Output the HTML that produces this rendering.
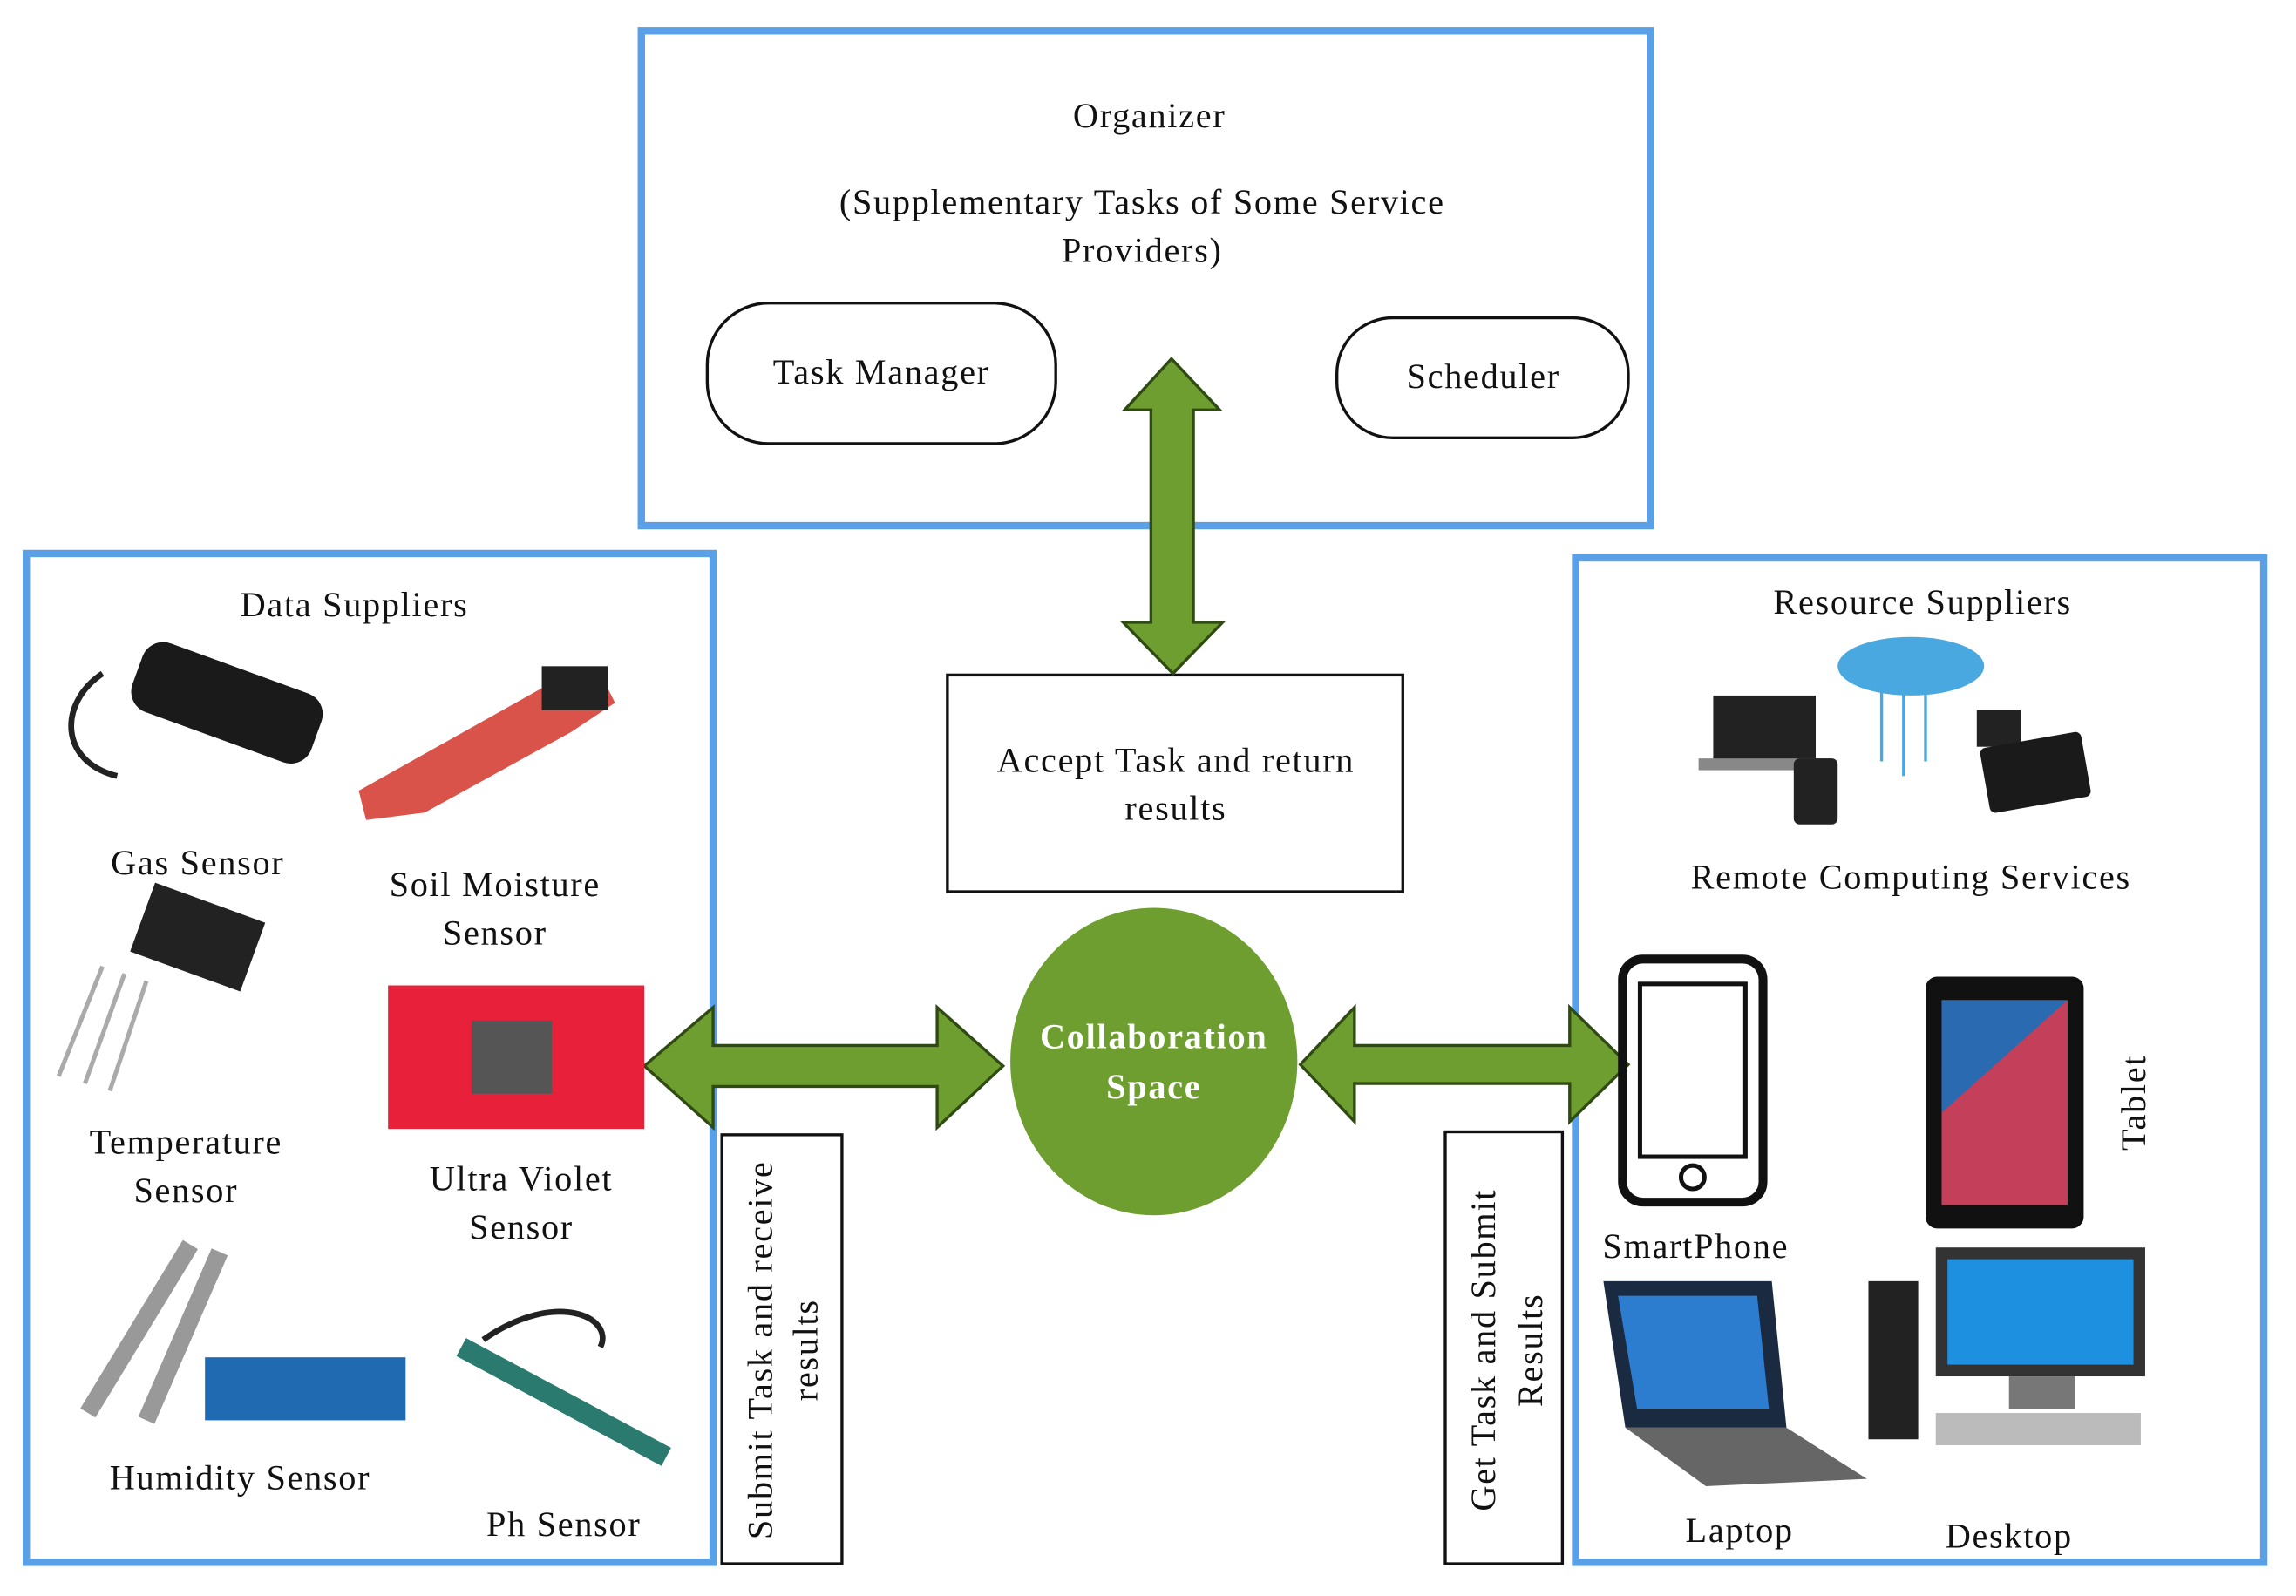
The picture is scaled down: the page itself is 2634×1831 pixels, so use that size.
<!DOCTYPE html>
<html><head><meta charset="utf-8"><style>html,body{margin:0;padding:0;background:#fff}svg{display:block}text{font-family:"Liberation Serif",serif;fill:#111;letter-spacing:1px}</style></head><body>
<svg width="2634" height="1831" viewBox="0 0 1568 1090" preserveAspectRatio="none" xmlns="http://www.w3.org/2000/svg">
<rect width="1568" height="1090" fill="#fff"/>
<g fill="none" stroke="#5aa0e6" stroke-width="5">
<rect x="438" y="21" width="689" height="338"/>
<rect x="18" y="378" width="469" height="689"/>
<rect x="1076" y="381" width="470" height="686"/>
</g>
<g font-size="24" text-anchor="middle">
<text x="785" y="87">Organizer</text>
<text x="780" y="146">(Supplementary Tasks of Some Service</text>
<text x="780" y="179">Providers)</text>
<text x="602" y="262">Task Manager</text>
<text x="1013" y="265">Scheduler</text>
<text x="803" y="527">Accept Task and return</text>
<text x="803" y="560">results</text>
<text x="242" y="421">Data Suppliers</text>
<text x="1313" y="419">Resource Suppliers</text>
<text x="135" y="597">Gas Sensor</text>
<text x="338" y="612">Soil Moisture</text>
<text x="338" y="645">Sensor</text>
<text x="127" y="788">Temperature</text>
<text x="127" y="821">Sensor</text>
<text x="356" y="813">Ultra Violet</text>
<text x="356" y="846">Sensor</text>
<text x="164" y="1017">Humidity Sensor</text>
<text x="385" y="1049">Ph Sensor</text>
<text x="1305" y="607">Remote Computing Services</text>
<text x="1158" y="859">SmartPhone</text>
<text x="1188" y="1053">Laptop</text>
<text x="1372" y="1057">Desktop</text>
</g>
<g fill="none" stroke="#111" stroke-width="2">
<rect x="483" y="207" width="238" height="96" rx="42"/>
<rect x="913" y="217" width="199" height="82" rx="38"/>
<rect x="647" y="461" width="311" height="148"/>
<rect x="493" y="775" width="82" height="293"/>
<rect x="987" y="773" width="80" height="295"/>
</g>
<g font-size="24" text-anchor="middle">
<text transform="translate(527,922) rotate(-90)">Submit Task and receive</text>
<text transform="translate(558,922) rotate(-90)">results</text>
<text transform="translate(1021,922) rotate(-90)">Get Task and Submit</text>
<text transform="translate(1053,922) rotate(-90)">Results</text>
<text transform="translate(1465,753) rotate(-90)">Tablet</text>
</g>
<g fill="#6e9e2f" stroke="#2f4a12" stroke-width="2">
<polygon points="800,245 833,280 815,280 815,425 835,425 801,460 767,425 786,425 786,280 768,280"/>
<polygon points="440,728 487,688 487,714 640,714 640,688 685,728 640,770 640,742 487,742 487,770"/>
<polygon points="888,727 925,688 925,714 1072,714 1072,688 1112,727 1072,766 1072,740 925,740 925,766"/>
</g>
<ellipse cx="788" cy="725" rx="98" ry="105" fill="#6e9e2f"/>
<g font-size="24" text-anchor="middle" font-weight="bold"><text x="788" y="716" style="fill:#fff">Collaboration</text><text x="788" y="750" style="fill:#fff">Space</text></g>
<g>
<rect x="90" y="455" width="130" height="50" rx="15" fill="#1a1a1a" transform="rotate(20 155 480)"/>
<path d="M70,460 C40,480 40,520 80,530" stroke="#222" stroke-width="4" fill="none"/>
<polygon points="245,540 370,470 410,460 420,480 390,500 290,555 250,560" fill="#d9534a"/>
<rect x="370" y="455" width="45" height="30" fill="#222"/>
<rect x="95" y="615" width="80" height="50" fill="#222" transform="rotate(20 135 640)"/>
<path d="M70,660 L40,735 M85,665 L58,740 M100,670 L75,745" stroke="#aaa" stroke-width="3"/>
<rect x="265" y="673" width="175" height="98" fill="#e8203a"/>
<rect x="322" y="697" width="55" height="50" fill="#555"/>
<path d="M130,850 L60,965 M150,855 L100,970" stroke="#999" stroke-width="12"/>
<rect x="140" y="927" width="137" height="43" fill="#1f6ab0"/>
<path d="M315,920 L455,995" stroke="#2a7a70" stroke-width="14"/>
<path d="M330,915 C380,880 420,900 410,920" stroke="#222" stroke-width="4" fill="none"/>
<ellipse cx="1305" cy="455" rx="50" ry="20" fill="#4aa8e0"/>
<path d="M1285,470 L1285,520 M1300,470 L1300,530 M1315,470 L1315,520" stroke="#4aa8e0" stroke-width="2"/>
<rect x="1170" y="475" width="70" height="45" fill="#222"/>
<rect x="1160" y="518" width="90" height="8" fill="#888"/>
<rect x="1225" y="518" width="30" height="45" fill="#222" rx="4"/>
<rect x="1350" y="485" width="30" height="25" fill="#222"/>
<rect x="1355" y="505" width="70" height="45" fill="#1a1a1a" rx="4" transform="rotate(-10 1390 527)"/>
<rect x="1108" y="655" width="96" height="166" rx="14" fill="none" stroke="#111" stroke-width="6"/>
<rect x="1120" y="672" width="72" height="118" fill="none" stroke="#111" stroke-width="3"/>
<circle cx="1156" cy="804" r="8" fill="none" stroke="#111" stroke-width="3"/>
<rect x="1315" y="667" width="108" height="172" rx="8" fill="#111"/>
<rect x="1326" y="683" width="86" height="140" fill="#c4405a"/>
<polygon points="1326,683 1412,683 1326,760" fill="#2a6ab0"/>
<polygon points="1095,875 1210,875 1220,975 1110,975" fill="#1a2a40"/>
<polygon points="1105,885 1200,885 1208,962 1118,962" fill="#2c7dd0"/>
<polygon points="1110,975 1220,975 1275,1010 1165,1015" fill="#666"/>
<rect x="1276" y="875" width="34" height="108" fill="#222"/>
<rect x="1322" y="852" width="143" height="88" fill="#333"/>
<rect x="1330" y="860" width="127" height="72" fill="#1e90e0"/>
<rect x="1372" y="940" width="45" height="22" fill="#777"/>
<rect x="1322" y="965" width="140" height="22" fill="#bbb"/>
</g>
</svg>
</body></html>
